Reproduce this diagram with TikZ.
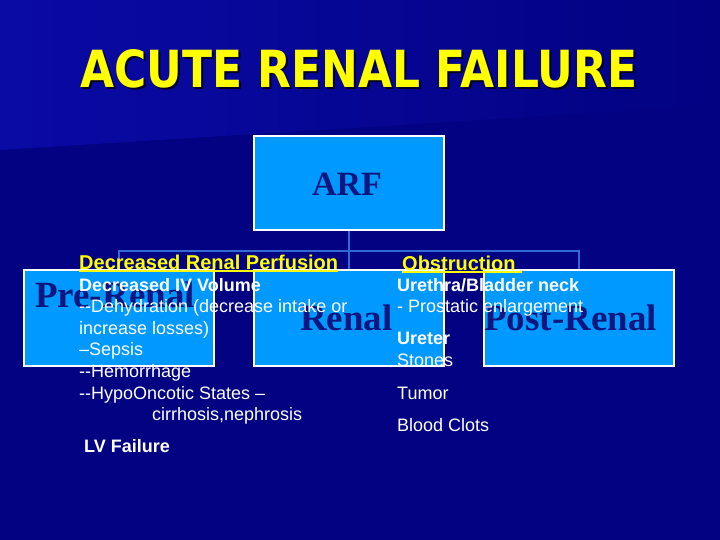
\documentclass[tikz,border=0pt]{standalone}
\usepackage{fontspec}
\setmainfont{Liberation Sans}
\newfontfamily\serifbf{Liberation Serif}
\newfontfamily\titlefont{DejaVu Sans}
\usepackage{graphicx}
\definecolor{bgnavy}{RGB}{2,2,130}
\definecolor{bglight}{RGB}{10,10,165}
\definecolor{boxblue}{RGB}{0,153,255}
\definecolor{boxtext}{RGB}{12,22,128}
\definecolor{linkblue}{RGB}{50,105,210}
\definecolor{ttl}{RGB}{255,255,0}
\begin{document}
\begin{tikzpicture}[x=1pt,y=-1pt,
  boxnode/.style={draw=white, line width=2pt, fill=boxblue, minimum width=190pt,
    minimum height=96pt, inner sep=0pt, anchor=north west},
  boxlbl/.style={anchor=base west, inner sep=0pt, text=boxtext,
    font=\serifbf\bfseries\fontsize{37}{40}\selectfont},
  txt/.style={anchor=base west, inner sep=0pt, text=white, font=\fontsize{18}{21}\selectfont},
  txtb/.style={anchor=base west, inner sep=0pt, text=white, font=\bfseries\fontsize{18}{21}\selectfont},
  headtxt/.style={anchor=base west, inner sep=0pt, text=ttl, font=\bfseries\fontsize{20}{24}\selectfont},
  link/.style={draw=linkblue, line width=1.5pt},
  uline/.style={draw=ttl, line width=1.6pt}]
\useasboundingbox (0,0) rectangle (720,540);
% background
\fill[bgnavy] (0,0) rectangle (720,540);
\shade[left color=bglight, right color=bgnavy] (0,0) -- (720,0) -- (720,105) -- (0,150) -- cycle;
% title
\node[anchor=base west, inner sep=0pt, text=black!70!bgnavy] (titleshadow) at (82,90)
  {\resizebox{557pt}{38pt}{\titlefont\bfseries ACUTE RENAL FAILURE}};
\node[anchor=base west, inner sep=0pt, text=ttl] (title) at (80,88)
  {\resizebox{557pt}{38pt}{\titlefont\bfseries ACUTE RENAL FAILURE}};
% boxes
\node[boxnode, minimum height=94pt] (arf) at (253,135) {};
\node[boxnode] (pre) at (23,269) {};
\node[boxnode] (renal) at (253,269) {};
\node[boxnode] (post) at (483,269) {};
% connectors
\draw[link] (arf.south) -- ++(0,20) -| (pre.north);
\draw[link] (arf.south) -- ++(0,20) -| (post.north);
\draw[link] (arf.south) -- (renal.north);
% box labels
\node[boxlbl, anchor=base, font=\serifbf\bfseries\fontsize{34}{38}\selectfont] (arflbl) at (347,196) {ARF};
\node[boxlbl] (prelbl) at (35,307) {Pre-Renal};
\node[boxlbl] (renallbl) at (300,330) {Renal};
\node[boxlbl] (postlbl) at (484,330) {Post-Renal};
% left column text
\node[headtxt] (perf) at (79,269) {Decreased Renal Perfusion};
\draw[uline] ([yshift=-2pt]perf.base west) -- ([yshift=-2pt]perf.base east);
\node[txtb] (ivvol) at (79,291) {Decreased IV Volume};
\node[txt] (dehyd) at (79,312) {-\kern0pt-Dehydration (decrease intake or};
\node[txt] (losses) at (79,334) {increase losses)};
\node[txt] (sepsis) at (79,355) {–Sepsis};
\node[txt] (hemo) at (79,377) {-\kern0pt-Hemorrhage};
\node[txt] (hypo) at (79,399) {-\kern0pt-HypoOncotic States –};
\node[txt] (cirr) at (152,420) {cirrhosis,nephrosis};
\node[txtb] (lvf) at (84,452) {LV Failure};
% right column text
\node[headtxt] (obst) at (402,270) {Obstruction};
\draw[uline] ([yshift=-2pt]obst.base west) -- ([yshift=-2pt,xshift=6pt]obst.base east);
\node[txtb] (ureth) at (397,291) {Urethra/Bladder neck};
\node[txt] (prost) at (397,312) {- Prostatic enlargement};
\node[txtb] (ureter) at (397,344) {Ureter};
\node[txt] (stones) at (397,366) {Stones};
\node[txt] (tumor) at (397,399) {Tumor};
\node[txt] (clots) at (397,431) {Blood Clots};
\end{tikzpicture}
\end{document}
